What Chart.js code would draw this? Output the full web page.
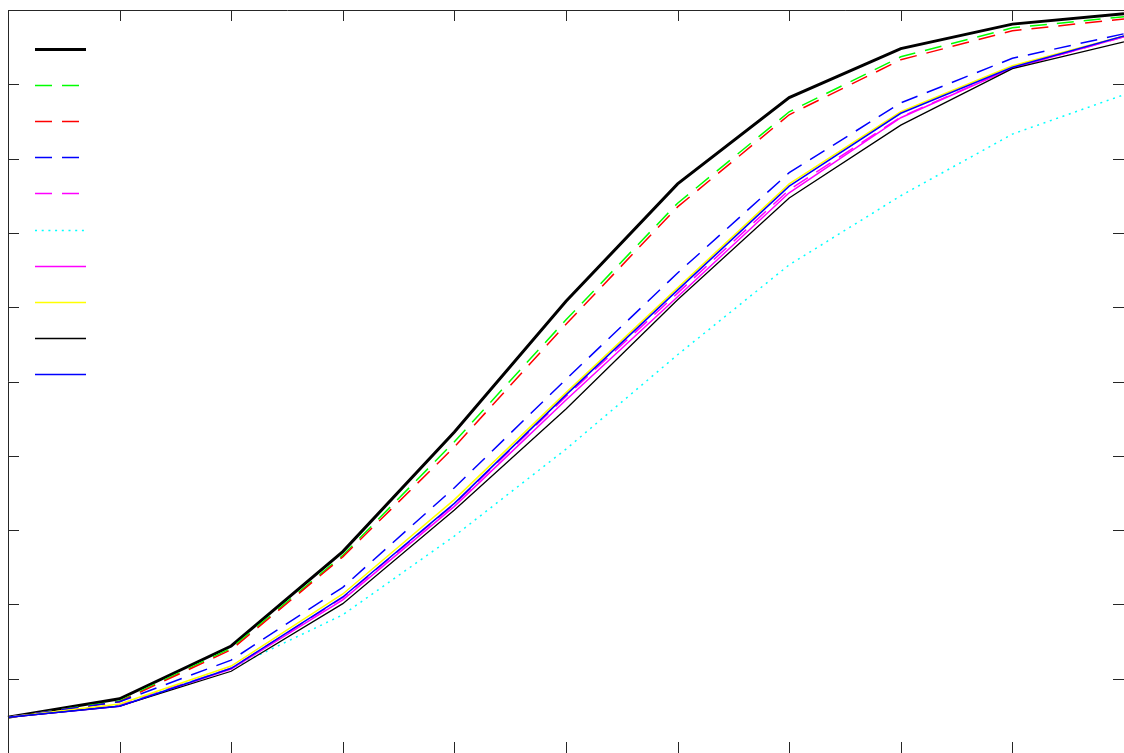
<!DOCTYPE html>
<html>
<head>
<meta charset="utf-8">
<script src="https://cdn.jsdelivr.net/npm/chart.js@4/dist/chart.umd.min.js"></script>
<style>
  html, body { margin: 0; padding: 0; background: #fff; }
  canvas { display: block; }
</style>
</head>
<body>
<canvas id="curves" width="1124" height="753"></canvas>
<script>
// x categories (no labels shown in the figure)
const xValues = [0, 1, 2, 3, 4, 5, 6, 7, 8, 9, 10];

// series, in legend order
const blackThick   = [0.048, 0.073, 0.144, 0.271, 0.432, 0.608, 0.766, 0.882, 0.948, 0.981, 0.995];
const greenDashed  = [0.048, 0.070, 0.141, 0.266, 0.419, 0.583, 0.740, 0.863, 0.937, 0.976, 0.991];
const redDashed    = [0.048, 0.069, 0.139, 0.264, 0.412, 0.577, 0.735, 0.859, 0.933, 0.972, 0.988];
const blueDashed   = [0.048, 0.069, 0.125, 0.223, 0.357, 0.503, 0.646, 0.781, 0.875, 0.935, 0.968];
const magentaDash  = [0.048, 0.065, 0.114, 0.209, 0.335, 0.480, 0.619, 0.758, 0.856, 0.922, 0.964];
const cyanDotted   = [0.048, 0.065, 0.114, 0.186, 0.292, 0.409, 0.536, 0.657, 0.750, 0.833, 0.886];
const magentaSolid = [0.048, 0.063, 0.113, 0.206, 0.332, 0.475, 0.614, 0.754, 0.855, 0.922, 0.964];
const yellowSolid  = [0.048, 0.066, 0.117, 0.214, 0.341, 0.485, 0.626, 0.766, 0.863, 0.925, 0.965];
const blackThin    = [0.048, 0.063, 0.110, 0.201, 0.327, 0.463, 0.610, 0.747, 0.845, 0.921, 0.957];
const blueSolid    = [0.048, 0.063, 0.114, 0.210, 0.336, 0.482, 0.623, 0.763, 0.861, 0.923, 0.965];

// y axis range and tick step
const yMin = 0;
const yMax = 1;
const yStep = 0.1;

const DASH = [17, 10];
const DOT = [2, 4.7];

const series = [
    { data: blackThick,   color: '#000000', width: 3,   dash: [] },
    { data: greenDashed,  color: '#00ff00', width: 1.5, dash: DASH },
    { data: redDashed,    color: '#ff0000', width: 1.5, dash: DASH },
    { data: blueDashed,   color: '#0000ff', width: 1.5, dash: DASH },
    { data: magentaDash,  color: '#ff00ff', width: 1.5, dash: DASH },
    { data: cyanDotted,   color: '#00ffff', width: 1.5, dash: DOT },
    { data: magentaSolid, color: '#ff00ff', width: 1.5, dash: [] },
    { data: yellowSolid,  color: '#ffff00', width: 1.5, dash: [] },
    { data: blackThin,    color: '#000000', width: 1.3, dash: [] },
    { data: blueSolid,    color: '#0000ff', width: 1.5, dash: [] },
];

// frame + inward ticks, matlab style box (top/left edges visible)
const frameTicks = {
    id: 'frameTicks',
    afterDraw(chart) {
        const { ctx, chartArea: a, scales } = chart;
        const len = 11;
        ctx.save();
        ctx.strokeStyle = '#262626';
        ctx.lineWidth = 1;
        ctx.beginPath();
        ctx.moveTo(a.left + 0.5, a.bottom);
        ctx.lineTo(a.left + 0.5, a.top + 0.5);
        ctx.lineTo(a.right, a.top + 0.5);
        ctx.stroke();

        ctx.beginPath();
        scales.x.ticks.forEach((t, i) => {
            const px = Math.round(scales.x.getPixelForTick(i)) + 0.5;
            ctx.moveTo(px, a.top);
            ctx.lineTo(px, a.top + len);
            ctx.moveTo(px, a.bottom);
            ctx.lineTo(px, a.bottom - len);
        });
        scales.y.ticks.forEach(t => {
            const py = Math.round(scales.y.getPixelForValue(t.value)) + 0.5;
            ctx.moveTo(a.left, py);
            ctx.lineTo(a.left + len, py);
            ctx.moveTo(a.right, py);
            ctx.lineTo(a.right - len, py);
        });
        ctx.stroke();
        ctx.restore();
    }
};

// legend samples only (the figure has no legend text)
const lineLegend = {
    id: 'lineLegend',
    afterDraw(chart) {
        const ctx = chart.ctx;
        const x0 = 35, x1 = 86, y0 = 48.5, gap = 36.2;
        ctx.save();
        chart.data.datasets.forEach((ds, i) => {
            const y = Math.round(y0 + gap * i) + (ds.borderWidth % 2 ? 0.5 : 0);
            ctx.strokeStyle = ds.borderColor;
            ctx.lineWidth = ds.borderWidth;
            ctx.setLineDash(ds.borderDash);
            ctx.beginPath();
            ctx.moveTo(x0, y);
            ctx.lineTo(x1, y);
            ctx.stroke();
        });
        ctx.restore();
    }
};

new Chart(document.getElementById('curves').getContext('2d'), {
    type: 'line',
    data: {
        labels: xValues,
        datasets: series.map((s, i) => ({
            label: '',
            data: s.data,
            borderColor: s.color,
            backgroundColor: s.color,
            borderWidth: s.width,
            borderDash: s.dash,
            pointRadius: 0,
            fill: false,
            tension: 0,
            order: series.length - i,
        }))
    },
    options: {
        responsive: false,
        animation: false,
        layout: { padding: { left: 8, top: 10, right: 0, bottom: 0 } },
        plugins: {
            legend: { display: false },
            tooltip: { enabled: false },
        },
        scales: {
            x: {
                offset: false,
                grid: { display: false, drawTicks: false },
                border: { display: false },
                ticks: { display: false },
            },
            y: {
                min: yMin,
                max: yMax,
                grid: { display: false, drawTicks: false },
                border: { display: false },
                ticks: { display: false, stepSize: yStep },
            },
        },
    },
    plugins: [frameTicks, lineLegend],
});
</script>
</body>
</html>
